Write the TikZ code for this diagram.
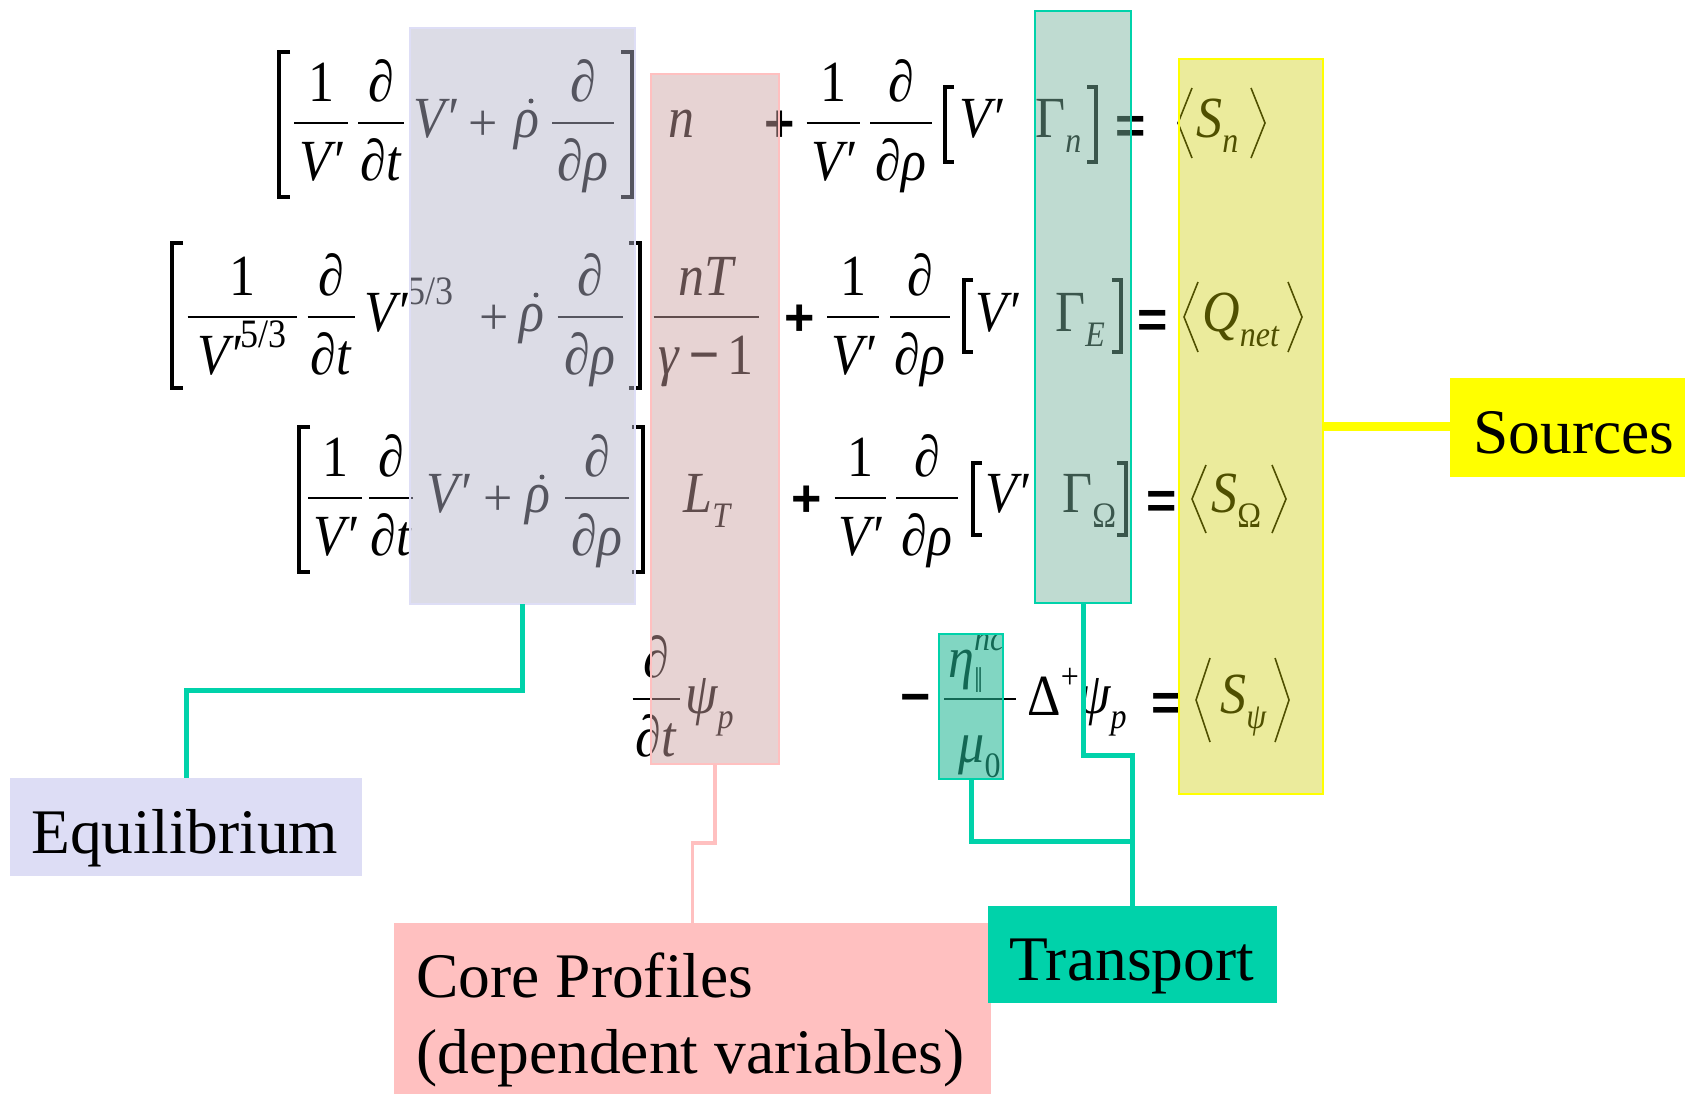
\documentclass[tikz,border=0pt]{standalone}
\usepackage{fontspec}
\setmainfont{Liberation Serif}
\newfontfamily\lsans{Liberation Sans}
\definecolor{lavov}{RGB}{181,181,202}
\definecolor{lavline}{RGB}{222,222,246}
\definecolor{lavlab}{RGB}{221,221,245}
\definecolor{pinkov}{RGB}{205,162,162}
\definecolor{pinkline}{RGB}{255,192,192}
\definecolor{pinklab}{RGB}{255,192,192}
\definecolor{tealov}{RGB}{123,181,160}
\definecolor{tealsm}{RGB}{35,184,149}
\definecolor{tealline}{RGB}{0,210,170}
\definecolor{teallab}{RGB}{0,210,170}
\definecolor{yelov}{RGB}{205,205,0}
\definecolor{yelline}{RGB}{255,255,0}
\definecolor{yellab}{RGB}{255,255,0}
\newcommand\mf{\fontsize{26}{31}\selectfont}
\newcommand\msb[1]{\raisebox{-0.27em}{\fontsize{16}{16}\selectfont #1}}
\newcommand\msp[1]{\raisebox{0.45em}{\fontsize{16}{16}\selectfont #1}}
\newcommand\msq[1]{\raisebox{0.45em}{\fontsize{18}{18}\selectfont\upshape #1}}
\newcommand\mfr[6]{%
  \node[mx] (#1n) at ({#2},{#3-22}) {#5};
  \draw[fbar] ({#2-#4/2},{#3}) -- ({#2+#4/2},{#3});
  \node[mx] (#1d) at ({#2},{#3+57}) {#6};}
\newcommand\lbr[4]{\draw[brk] ({#1+#4},{#2}) -- ({#1},{#2}) -- ({#1},{#3}) -- ({#1+#4},{#3});}
\newcommand\rbr[4]{\draw[brk] ({#1-#4},{#2}) -- ({#1},{#2}) -- ({#1},{#3}) -- ({#1-#4},{#3});}
\newcommand\lang[3]{\draw[ang] ({#1+7},{#2}) -- ({#1-7},{(#2+#3)/2}) -- ({#1+7},{#3});}
\newcommand\rang[3]{\draw[ang] ({#1-7},{#2}) -- ({#1+7},{(#2+#3)/2}) -- ({#1-7},{#3});}
\begin{document}
\begin{tikzpicture}[x=0.5pt,y=-0.5pt,
  mx/.style={inner sep=0pt, anchor=base, font=\mf\itshape, yscale=1.12},
  mxw/.style={mx, anchor=base west},
  op/.style={inner sep=0pt, anchor=center, font=\lsans\bfseries\mf},
  opt/.style={inner sep=0pt, anchor=center, font=\mf},
  opb/.style={inner sep=0pt, anchor=center, font=\lsans\bfseries\mf},
  fbar/.style={line width=1pt},
  brk/.style={line width=1.6pt, line join=miter},
  ang/.style={line width=0.8pt, line join=miter},
  ovl/.style={rectangle, inner sep=0pt, outer sep=0pt, fill opacity=0.47},
  lblbox/.style={rectangle, inner sep=0pt, outer sep=0pt},
  lbltxt/.style={inner sep=0pt, anchor=base west, font=\fontsize{31.75}{38}\selectfont},
  tconn/.style={draw=tealline, line width=2.5pt, line join=miter},
  pconn/.style={draw=pinkline, line width=1.9pt, line join=miter},
  yconn/.style={draw=yelline, line width=4.5pt}]
\useasboundingbox (0,0) rectangle (1685,1094);
\fill[white] (0,0) rectangle (1685,1094);

% ---------- Row 1 (bar 123)
\lbr{279}{52}{197}{11}
\mfr{a1}{321}{123}{54}{\textup{1}}{V′}
\mfr{a2}{381}{123}{46}{∂}{∂t}
\node[mxw] (a3) at (413,137) {V′};
\node[opt] (a4) at (483,126) {+};
\node[mx] (a5) at (527,137) {ρ};
\fill (531,101) circle[radius=2.5];
\mfr{a6}{583}{123}{62}{∂}{∂ρ}
\rbr{632}{52}{197}{11}
\node[mx] (a7) at (681,137) {n};
\node[op] (a8) at (780,126) {+};
\mfr{a9}{833}{123}{53}{\textup{1}}{V′}
\mfr{a10}{901}{123}{62}{∂}{∂ρ}
\lbr{945}{87}{162}{9}
\node[mxw] (a11) at (959,137) {V′};
\node[mxw] (a12) at (1035,137) {\textup{Γ}\msb{n}};
\rbr{1096}{87}{162}{9}
\node[opb] (a13) at (1131,130) {=};
\lang{1185}{88}{158}
\node[mxw] (a14) at (1196,137) {S\msb{n}};
\rang{1258}{88}{158}

% ---------- Row 2 (bar 317)
\lbr{172}{243}{388}{11}
\mfr{b1}{242}{317}{109}{\textup{1}}{V′\msq{5/3}}
\mfr{b2}{331}{317}{47}{∂}{∂t}
\node[mxw] (b3) at (364,331) {V′\msq{5/3}};
\node[opt] (b4) at (494,320) {+};
\node[mx] (b5) at (532,331) {ρ};
\fill (536,295) circle[radius=2.5];
\mfr{b6}{590}{317}{65}{∂}{∂ρ}
\rbr{640}{243}{388}{11}
\mfr{b7}{706}{317}{105}{nT}{γ\,{\lsans −}\,\textup{1}}
\node[op] (b8) at (800,320) {+};
\mfr{b9}{853}{317}{52}{\textup{1}}{V′}
\mfr{b10}{920}{317}{60}{∂}{∂ρ}
\lbr{964}{280}{352}{9}
\node[mxw] (b11) at (975,331) {V′};
\node[mxw] (b12) at (1055,331) {\textup{Γ}\msb{E}};
\rbr{1121}{280}{352}{9}
\node[opb] (b13) at (1153,324) {=};
\lang{1191}{282}{352}
\node[mxw] (b14) at (1202,331) {Q\msb{net}};
\rang{1295}{282}{352}

% ---------- Row 3 (bar 498)
\lbr{299}{427}{572}{11}
\mfr{c1}{335}{498}{54}{\textup{1}}{V′}
\mfr{c2}{391}{498}{44}{∂}{∂t}
\node[mxw] (c3) at (426,512) {V′};
\node[opt] (c4) at (498,501) {+};
\node[mx] (c5) at (538,512) {ρ};
\fill (542,477) circle[radius=2.5];
\mfr{c6}{597}{498}{64}{∂}{∂ρ}
\rbr{643}{427}{572}{11}
\node[mxw] (c7) at (683,512) {L\msb{T}};
\node[op] (c8) at (807,501) {+};
\mfr{c9}{860}{498}{51}{\textup{1}}{V′}
\mfr{c10}{927}{498}{62}{∂}{∂ρ}
\lbr{973}{463}{535}{9}
\node[mxw] (c11) at (985,512) {V′};
\node[mxw] (c12) at (1062,512) {\textup{Γ}\msb{\textup{Ω}}};
\rbr{1126}{463}{535}{9}
\node[opb] (c13) at (1162,505) {=};
\lang{1199}{465}{533}
\node[mxw] (c14) at (1211,512) {S\msb{\textup{Ω}}};
\rang{1279}{465}{533}

% ---------- Row 4 (bar 699)
\mfr{d1}{656}{699}{47}{∂}{∂t}
\node[mxw] (d2) at (685,713) {ψ\msb{p}};
\node[opb] (d3) at (916,704) {−};
\draw[fbar] (944,699) -- (1016,699);
\node[mxw] (d4n) at (948,677) {η\rlap{\msb{‖}}\msp{nc}};
\node[mxw] (d4d) at (958,762) {μ\msb{\textup{0}}};
\node[mxw] (d5) at (1027,715) {\textup{Δ}\msp{\textup{+}}};
\node[mxw] (d6) at (1078,713) {ψ\msb{p}};
\node[opb] (d7) at (1167,707) {=};
\lang{1203}{658}{742}
\node[mxw] (d8) at (1220,713) {S\msb{ψ}};
\rang{1282}{658}{742}

% ---------- overlays
\node[ovl, fill=lavov, draw=lavline, line width=0.75pt, minimum width=112.5pt, minimum height=288pt] (eqbox) at (522.5,316) {};
\node[ovl, fill=pinkov, draw=pinkline, line width=0.75pt, minimum width=64pt, minimum height=345pt] (cpbox) at (715,419) {};
\node[ovl, fill=tealov, draw=tealline, line width=1.2pt, fill opacity=0.48, minimum width=48pt, minimum height=296pt] (trbox) at (1083,307) {};
\node[ovl, fill=yelov, draw=yelline, line width=1.2pt, fill opacity=0.39, minimum width=72pt, minimum height=367.5pt] (srcbox) at (1251,426.5) {};
\node[ovl, fill=tealsm, draw=tealline, line width=1.2pt, fill opacity=0.57, minimum width=32pt, minimum height=72.5pt] (trsmall) at (971,706.5) {};

% ---------- labels
\node[lblbox, fill=lavlab, minimum width=176pt, minimum height=49pt] (eqlabel) at (186,827) {};
\node[lblbox, fill=pinklab, minimum width=298.5pt, minimum height=85.5pt] (cplabel) at (692.5,1008.5) {};
\node[lblbox, fill=teallab, minimum width=144.5pt, minimum height=48.5pt] (trlabel) at (1132.5,954.5) {};
\node[lblbox, fill=yellab, minimum width=117.5pt, minimum height=49.5pt] (srclabel) at (1567.5,427.5) {};
\node[lbltxt] (eqtext) at (31,853) {Equilibrium};
\node[lbltxt] (cptext1) at (416,997) {Core Profiles};
\node[lbltxt] (cptext2) at (416,1073) {(dependent variables)};
\node[lbltxt] (trtext) at (1009,980) {Transport};
\node[lbltxt] (srctext) at (1473,453) {Sources};

% ---------- connectors
\draw[tconn] (eqbox.south) -- ++(0,86) -| (eqlabel.north);
\draw[pconn] (cpbox.south) -- ++(0,79) -| (cplabel.north);
\draw[tconn] (trbox.south) -- ++(0,152) -| (trlabel.north);
\draw[tconn] (trsmall.south) -- ++(0,62) -| (trlabel.north);
\draw[yconn] (srcbox.east) -- (srcbox.east -| srclabel.west);
\end{tikzpicture}
\end{document}
